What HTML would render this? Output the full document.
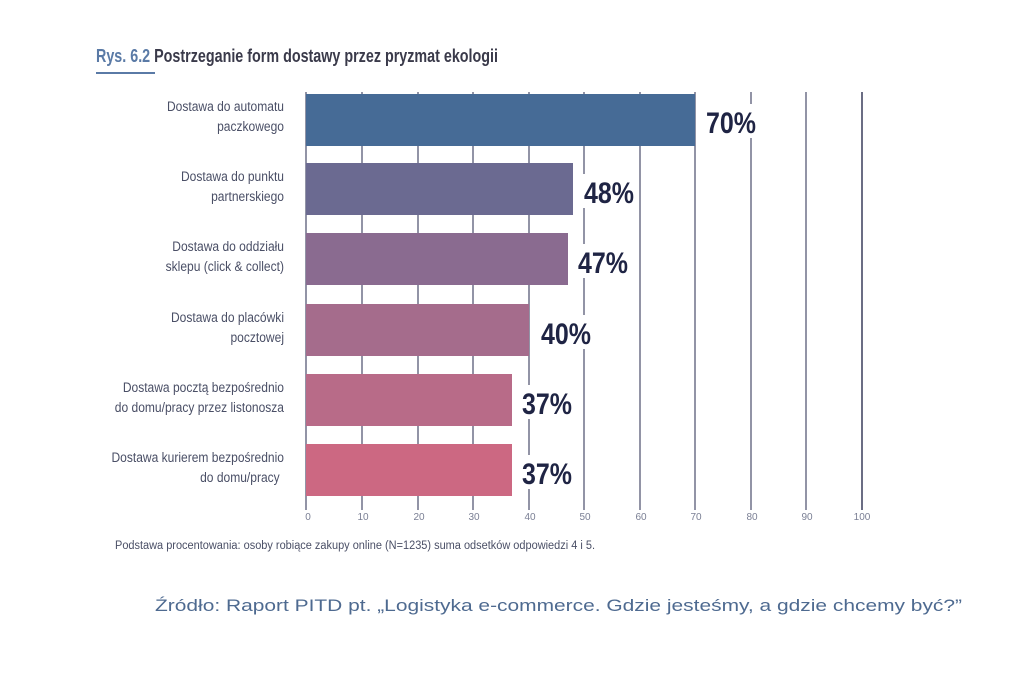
<!DOCTYPE html>
<html><head><meta charset="utf-8"><style>
body{margin:0;background:#fff;}
svg text{font-family:"Liberation Sans Narrow","Liberation Sans",sans-serif;}
</style></head><body>
<svg width="1016" height="688" viewBox="0 0 1016 688">
<text x="96" y="62" font-size="18" font-weight="bold" fill="#3a3a4a" textLength="402" lengthAdjust="spacingAndGlyphs"><tspan fill="#5a7aa6">Rys. 6.2</tspan> Postrzeganie form dostawy przez pryzmat ekologii</text>
<line x1="96" y1="73" x2="155" y2="73" stroke="#5a7aa6" stroke-width="2"/>
<g stroke="#6e7088" stroke-width="1.5">
<line x1="362" y1="92" x2="362" y2="510"/><line x1="418" y1="92" x2="418" y2="510"/>
<line x1="473" y1="92" x2="473" y2="510"/><line x1="529" y1="92" x2="529" y2="510"/>
<line x1="584" y1="92" x2="584" y2="510"/><line x1="640" y1="92" x2="640" y2="510"/>
<line x1="695" y1="92" x2="695" y2="510"/><line x1="751" y1="92" x2="751" y2="510"/>
<line x1="806" y1="92" x2="806" y2="510"/><line x1="862" y1="92" x2="862" y2="510" stroke="#3a3d5c"/>
<line x1="306" y1="92" x2="306" y2="510"/>
</g>
<g>
<rect x="306" y="94" width="389" height="52" fill="#466b96"/>
<rect x="306" y="163" width="267" height="52" fill="#6b6a91"/>
<rect x="306" y="233" width="262" height="52" fill="#8a6b90"/>
<rect x="306" y="304" width="223" height="52" fill="#a56c8c"/>
<rect x="306" y="374" width="206" height="52" fill="#b86b88"/>
<rect x="306" y="444" width="206" height="52" fill="#cc6882"/>
</g>
<g fill="#1f2444" font-weight="bold" font-size="30">
<rect x="702" y="104" width="58" height="34" fill="#fff"/>
<text x="706" y="133" textLength="50" lengthAdjust="spacingAndGlyphs">70%</text>
<rect x="580" y="174" width="58" height="34" fill="#fff"/>
<text x="584" y="203" textLength="50" lengthAdjust="spacingAndGlyphs">48%</text>
<rect x="574" y="244" width="58" height="34" fill="#fff"/>
<text x="578" y="273" textLength="50" lengthAdjust="spacingAndGlyphs">47%</text>
<rect x="537" y="315" width="58" height="34" fill="#fff"/>
<text x="541" y="344" textLength="50" lengthAdjust="spacingAndGlyphs">40%</text>
<rect x="518" y="385" width="58" height="34" fill="#fff"/>
<text x="522" y="414" textLength="50" lengthAdjust="spacingAndGlyphs">37%</text>
<rect x="518" y="455" width="58" height="34" fill="#fff"/>
<text x="522" y="484" textLength="50" lengthAdjust="spacingAndGlyphs">37%</text>
</g>
<g fill="#4a4f66" font-size="14" text-anchor="end" transform="translate(284,0) scale(0.86,1)">
<text x="0" y="111">Dostawa do automatu</text><text x="0" y="131">paczkowego</text>
<text x="0" y="181">Dostawa do punktu</text><text x="0" y="201">partnerskiego</text>
<text x="0" y="251">Dostawa do oddziału</text><text x="0" y="271">sklepu (click &amp; collect)</text>
<text x="0" y="322">Dostawa do placówki</text><text x="0" y="342">pocztowej</text>
<text x="0" y="392">Dostawa pocztą bezpośrednio</text><text x="0" y="412">do domu/pracy przez listonosza</text>
<text x="0" y="462">Dostawa kurierem bezpośrednio</text><text x="-5" y="482">do domu/pracy</text>
</g>
<g fill="#7a7f94" font-size="10" text-anchor="middle">
<text x="308" y="520">0</text><text x="363" y="520">10</text><text x="419" y="520">20</text><text x="474" y="520">30</text><text x="530" y="520">40</text><text x="585" y="520">50</text><text x="641" y="520">60</text><text x="696" y="520">70</text><text x="752" y="520">80</text><text x="807" y="520">90</text><text x="862" y="520">100</text>
</g>
<text x="115" y="549" font-size="11.5" fill="#4a4f66" textLength="480" lengthAdjust="spacingAndGlyphs">Podstawa procentowania: osoby robiące zakupy online (N=1235) suma odsetków odpowiedzi 4 i 5.</text>
<text x="155" y="611" font-size="17" fill="#4e6a90" style="font-family:'Liberation Sans',sans-serif" textLength="807" lengthAdjust="spacingAndGlyphs">Źródło: Raport  PITD pt. „Logistyka e-commerce. Gdzie jesteśmy, a gdzie chcemy być?”</text>
</svg>
</body></html>
